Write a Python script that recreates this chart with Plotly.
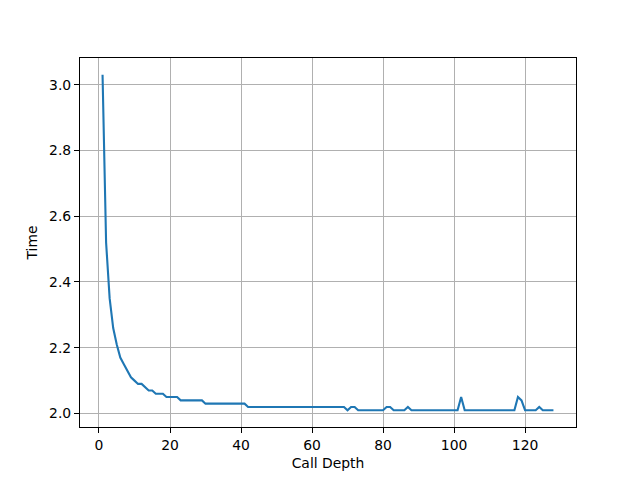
import plotly.graph_objects as go

call_depth = list(range(1, 129))
time_values = (
    [3.03, 2.52, 2.35, 2.26, 2.21, 2.17, 2.15, 2.13, 2.11, 2.10,
     2.09, 2.09, 2.08, 2.07, 2.07, 2.06, 2.06, 2.06, 2.05, 2.05,
     2.05, 2.05]
    + [2.04] * 7          # 23-29
    + [2.03] * 12         # 30-41
    + [2.02] * 28         # 42-69
    + [2.01, 2.02, 2.02]  # 70-72
    + [2.01] * 8          # 73-80
    + [2.02, 2.02]        # 81-82
    + [2.01] * 4          # 83-86
    + [2.02]              # 87
    + [2.01] * 14         # 88-101
    + [2.05]              # 102
    + [2.01] * 15         # 103-117
    + [2.05, 2.04]        # 118-119
    + [2.01] * 4          # 120-123
    + [2.02]              # 124
    + [2.01] * 4          # 125-128
)

x_ticks = [0, 20, 40, 60, 80, 100, 120]
y_ticks = [2.0, 2.2, 2.4, 2.6, 2.8, 3.0]

xmin, xmax = min(call_depth), max(call_depth)
ymin, ymax = min(time_values), max(time_values)
xm = (xmax - xmin) * 0.05
ym = (ymax - ymin) * 0.05

fig = go.Figure()
fig.add_trace(go.Scatter(
    x=call_depth, y=time_values, mode="lines",
    line=dict(color="#1f77b4", width=2.1),
    showlegend=False,
))

font = dict(family="DejaVu Sans", size=13.9, color="black")
axis_common = dict(
    showgrid=True, gridcolor="#b0b0b0", gridwidth=1,
    showline=True, linecolor="black", linewidth=1.1, mirror=True,
    ticks="outside", ticklen=5, tickwidth=1.1, tickcolor="black",
    zeroline=False, tickfont=font,
)

fig.update_layout(
    width=640, height=480,
    margin=dict(l=72, r=72, t=50, b=61),
    paper_bgcolor="white", plot_bgcolor="white",
    font=font,
    xaxis=dict(range=[xmin - xm, xmax + xm], tickvals=x_ticks,
               ticktext=[str(v) for v in x_ticks],
               title=dict(text="Call Depth", font=font, standoff=6),
               **axis_common),
    yaxis=dict(range=[ymin - ym, ymax + ym], tickvals=y_ticks,
               ticktext=[f"{v:.1f}" for v in y_ticks],
               title=dict(text="Time", font=font, standoff=8),
               **axis_common),
)

fig.write_html("out.html")
